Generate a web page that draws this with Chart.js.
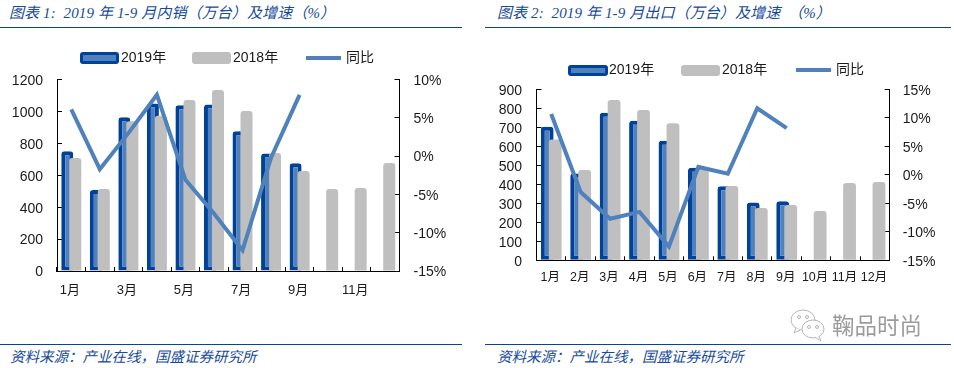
<!DOCTYPE html>
<html lang="zh">
<head>
    <meta charset="UTF-8">
    <title>2019年1-9月内销及出口</title>
    <script src="https://cdn.jsdelivr.net/npm/chart.js"></script>
    <style>
        html, body { margin: 0; padding: 0; background: #fff; overflow: hidden; }
        body { position: relative; width: 954px; height: 368px; font-family: "Liberation Sans", "Noto Sans CJK SC", sans-serif; }
        canvas { position: absolute; }
        .rule { position: absolute; height: 1px; background: #0a419b; }
        .cap { position: absolute; color: #174a9c; font: italic 15px "Liberation Serif", "Noto Sans CJK SC", serif; white-space: pre; letter-spacing: 0.12px; }
        .src { font-size: 14.5px; letter-spacing: 0; }
        .lg { position: absolute; font-size: 14px; line-height: 16px; color: #1a1a1a; white-space: pre; }
        .sw { position: absolute; box-sizing: border-box; border-radius: 3px; }
        .sw.blue { background: #4f81bd; border: 3px solid #00429a; }
        .sw.gray { background: #bfbfbf; }
        .sw.line { background: #4f81bd; border-radius: 0; }
        #mark { position: absolute; left: 832px; top: 308px; font: 22.5px "Noto Sans CJK SC", sans-serif; color: #9c9c9c; }
        #wx { position: absolute; left: 788px; top: 309px; }
    </style>
</head>
<body>
    <div class="cap" style="left:9px;top:1px">图表 1:  2019 年 1-9 月内销（万台）及增速（%）</div>
    <div class="cap" style="left:497px;top:1px">图表 2:  2019 年 1-9 月出口（万台）及增速  （%）</div>
    <div class="rule" style="left:0;top:27px;width:462px"></div>
    <div class="rule" style="left:485px;top:27px;width:466px"></div>

    <canvas id="chart1" width="470" height="300" style="left:0;top:30px"></canvas>
    <canvas id="chart2" width="470" height="300" style="left:484px;top:30px"></canvas>

    <div class="sw blue" style="left:80px;top:52px;width:39px;height:12px"></div>
    <div class="lg" style="left:121px;top:49px">2019年</div>
    <div class="sw gray" style="left:192px;top:52px;width:39px;height:12px"></div>
    <div class="lg" style="left:233px;top:49px">2018年</div>
    <div class="sw line" style="left:306px;top:56px;width:35px;height:4px"></div>
    <div class="lg" style="left:346px;top:49px">同比</div>

    <div class="sw blue" style="left:568px;top:65px;width:40px;height:11px"></div>
    <div class="lg" style="left:609px;top:61px">2019年</div>
    <div class="sw gray" style="left:681px;top:65px;width:39px;height:11px"></div>
    <div class="lg" style="left:722px;top:61px">2018年</div>
    <div class="sw line" style="left:796px;top:68px;width:35px;height:4px"></div>
    <div class="lg" style="left:836px;top:61px">同比</div>

    <svg id="wx" width="40" height="34" viewBox="0 0 40 34" fill="#fff" stroke="#b5b5b5" stroke-width="1">
        <ellipse cx="15" cy="11" rx="12" ry="10"/>
        <path d="M8 19l-2 5 6-3"/>
        <ellipse cx="25" cy="20" rx="11" ry="9"/>
        <path d="M31 27l2 5-6-4"/>
        <circle cx="11" cy="8" r="1.5"/><circle cx="19" cy="8" r="1.5"/>
        <circle cx="21" cy="18" r="1.5"/><circle cx="29" cy="18" r="1.5"/>
    </svg>
    <div id="mark">鞠品时尚</div>

    <div class="rule" style="left:0;top:344px;width:462px"></div>
    <div class="rule" style="left:485px;top:344px;width:466px"></div>
    <div class="cap src" style="left:10px;top:345px">资料来源：产业在线，国盛证券研究所</div>
    <div class="cap src" style="left:497px;top:345px">资料来源：产业在线，国盛证券研究所</div>

    <script>
        const months = ['1月', '2月', '3月', '4月', '5月', '6月', '7月', '8月', '9月', '10月', '11月', '12月'];
        const shownMonths1 = ['1月', '', '3月', '', '5月', '', '7月', '', '9月', '', '11月', ''];

        // 内销
        const domestic2019 = [750, 507, 963, 1050, 1038, 1044, 875, 737, 675, null, null, null];
        const domestic2018 = [708, 514, 938, 973, 1071, 1134, 1002, 739, 627, 514, 520, 677];
        const domesticYoy = [6.1, -1.7, 3.0, 8.0, -3.1, -7.5, -12.3, -0.2, 8.0, null, null, null];

        // 出口
        const export2019 = [704, 458, 778, 735, 630, 488, 390, 305, 311, null, null, null];
        const export2018 = [637, 476, 845, 792, 722, 476, 391, 275, 291, 260, 407, 412];
        const exportYoy = [10.7, -3.0, -7.7, -6.5, -12.6, 1.4, 0.2, 11.7, 8.2, null, null, null];

        const BLUE = '#00429a', MID = '#4f81bd', GRAY = '#bfbfbf';

        // 蓝柱要压在灰柱下面, 但 order 会改变分组位置, 所以手动先画
        const blueFirst = {
            id: 'blueFirst',
            beforeDatasetsDraw(chart) { chart.getDatasetMeta(0).controller.draw(); },
            beforeDatasetDraw(chart, args) { if (args.index === 0) return false; }
        };

        function makeChart(id, o) {
            return new Chart(document.getElementById(id), {
                data: {
                    labels: o.labels,
                    datasets: [
                        { type: 'bar', data: o.bar2019, backgroundColor: MID, borderColor: BLUE, borderWidth: 4, borderRadius: { topLeft: 3, topRight: 3 }, borderSkipped: false, order: 1, yAxisID: 'y', categoryPercentage: o.catPct, barPercentage: o.barPct },
                        { type: 'bar', data: o.bar2018, backgroundColor: GRAY, borderWidth: 0, borderRadius: { topLeft: 3, topRight: 3 }, order: 1, yAxisID: 'y', categoryPercentage: o.catPct, barPercentage: o.barPct },
                        { type: 'line', data: o.yoy, borderColor: MID, borderWidth: 4, borderJoinStyle: 'miter', pointRadius: 0, tension: 0, order: 0, yAxisID: 'y1' }
                    ]
                },
                plugins: [blueFirst],
                options: {
                    responsive: false,
                    animation: false,
                    layout: { padding: { top: o.top } },
                    plugins: { legend: { display: false }, tooltip: { enabled: false } },
                    scales: {
                        x: {
                            grid: { offset: true, drawOnChartArea: false, tickLength: -4, tickColor: '#000' },
                            border: { color: '#000', width: 1 },
                            ticks: { autoSkip: false, maxRotation: 0, padding: o.xPad, labelOffset: o.xShift, color: '#1a1a1a', font: { size: o.xFont, family: '"Liberation Sans","Noto Sans CJK SC"' } },
                            afterFit(s) { s.height = o.bottom; }
                        },
                        y: {
                            position: 'left', min: 0, max: o.yMax,
                            grid: { drawOnChartArea: false, tickLength: -5, tickColor: '#000' },
                            border: { color: '#000', width: 1 },
                            ticks: { stepSize: o.yStep, autoSkip: false, padding: o.yPad, labelOffset: 1.5, color: '#1a1a1a', font: { size: 14, family: '"Liberation Sans"' }, callback: v => String(v) },
                            afterFit(s) { s.width = o.left; }
                        },
                        y1: {
                            position: 'right', min: -15, max: o.y1Max,
                            grid: { drawOnChartArea: false, tickLength: -5, tickColor: '#000' },
                            border: { color: '#000', width: 1 },
                            ticks: { stepSize: 5, autoSkip: false, padding: o.y1Pad, labelOffset: 1.5, color: '#1a1a1a', font: { size: 14, family: '"Liberation Sans"' }, callback: v => v + '%' },
                            afterFit(s) { s.width = o.right; }
                        }
                    }
                }
            });
        }

        makeChart('chart1', {
            labels: shownMonths1, bar2019: domestic2019, bar2018: domestic2018, yoy: domesticYoy,
            yMax: 1200, yStep: 200, y1Max: 10, top: 49.5, left: 57, right: 70.5, bottom: 59,
            catPct: 0.561, barPct: 1.5, xFont: 13, xPad: 16, xShift: -1.5, yPad: 19, y1Pad: 19
        });
        makeChart('chart2', {
            labels: months, bar2019: export2019, bar2018: export2018, yoy: exportYoy,
            yMax: 900, yStep: 100, y1Max: 15, top: 59.5, left: 52.5, right: 64.3, bottom: 69.7,
            catPct: 0.544, barPct: 1.6, xFont: 12.5, xPad: 14, xShift: -1, yPad: 19.5, y1Pad: 18
        });
    </script>
</body>
</html>
